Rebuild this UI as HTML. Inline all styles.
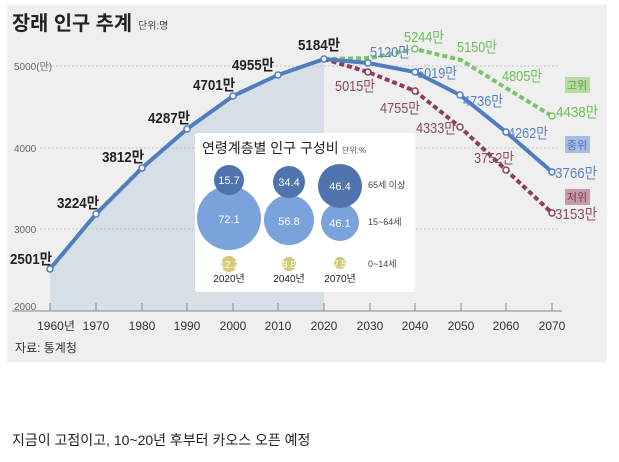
<!DOCTYPE html>
<html><head><meta charset="utf-8"><style>
body{margin:0;background:#fff;width:619px;height:462px;overflow:hidden}
svg{display:block}
text{font-family:"Liberation Sans","Noto Sans CJK KR",sans-serif}
</style></head><body>
<svg width="619" height="462" viewBox="0 0 619 462">
<rect x="7" y="5" width="600" height="357" fill="#efeff0"/>
<path d="M50,269 L96,214 L142,168 L187,129 L233,96 L278,75 L324,59 L324,311 L50,311 Z" fill="#d6dfe5"/>
<g stroke="#c4c4c4" stroke-dasharray="2,2" stroke-width="1">
<line x1="40" y1="66" x2="560" y2="66"/>
<line x1="40" y1="148" x2="560" y2="148"/>
<line x1="40" y1="229" x2="560" y2="229"/>
</g>
<g font-size="10" fill="#666">
<text x="14" y="70">5000(만)</text><text x="14" y="152">4000</text><text x="14" y="233">3000</text><text x="14" y="310">2000</text>
</g>
<text x="12" y="30" font-size="20" font-weight="bold" fill="#222" textLength="120" lengthAdjust="spacingAndGlyphs">장래 인구 추계</text>
<text x="138" y="29" font-size="10" fill="#444">단위:명</text>
<line x1="12" y1="311" x2="562" y2="311" stroke="#888" stroke-width="1"/>
<g stroke="#888"><line x1="50" y1="303" x2="50" y2="311"/><line x1="96" y1="303" x2="96" y2="311"/><line x1="142" y1="303" x2="142" y2="311"/><line x1="187" y1="303" x2="187" y2="311"/><line x1="233" y1="303" x2="233" y2="311"/><line x1="278" y1="303" x2="278" y2="311"/><line x1="324" y1="303" x2="324" y2="311"/><line x1="370" y1="303" x2="370" y2="311"/><line x1="415" y1="303" x2="415" y2="311"/><line x1="461" y1="303" x2="461" y2="311"/><line x1="506" y1="303" x2="506" y2="311"/><line x1="552" y1="303" x2="552" y2="311"/></g>
<g font-size="12" fill="#333" text-anchor="middle">
<text x="56" y="330">1960년</text><text x="96" y="330">1970</text><text x="142" y="330">1980</text><text x="187" y="330">1990</text><text x="233" y="330">2000</text><text x="278" y="330">2010</text><text x="324" y="330">2020</text><text x="370" y="330">2030</text><text x="415" y="330">2040</text><text x="461" y="330">2050</text><text x="506" y="330">2060</text><text x="552" y="330">2070</text>
</g>
<text x="15" y="352" font-size="12" fill="#333">자료: 통계청</text>
<polyline points="324,59 370,58 415,49 461,60 506,88 552,116" fill="none" stroke="#7cc26a" stroke-width="4" stroke-dasharray="5,3"/>
<polyline points="324,59 368,72 415,91 460,127 506,170 552,213" fill="none" stroke="#8c3f5a" stroke-width="4" stroke-dasharray="5,3"/>
<polyline points="50,269 96,214 142,168 187,129 233,96 278,75 324,59 368,63 415,72 460,95 506,132 552,172" fill="none" stroke="#4f7ec0" stroke-width="4"/>
<g fill="#fff" stroke="#4f7ec0" stroke-width="1.5">
<circle cx="50" cy="269" r="3"/><circle cx="96" cy="214" r="3"/><circle cx="142" cy="168" r="3"/><circle cx="187" cy="129" r="3"/><circle cx="233" cy="96" r="3"/><circle cx="278" cy="75" r="3"/><circle cx="324" cy="59" r="3"/><circle cx="368" cy="63" r="3"/><circle cx="415" cy="72" r="3"/><circle cx="460" cy="95" r="3"/><circle cx="506" cy="132" r="3"/><circle cx="552" cy="172" r="3"/></g>
<g fill="#fff" stroke="#7cc26a" stroke-width="1.5"><circle cx="415" cy="49" r="3"/><circle cx="552" cy="116" r="3"/></g>
<g fill="#fff" stroke="#8c3f5a" stroke-width="1.5"><circle cx="368" cy="72" r="3"/><circle cx="415" cy="91" r="3"/><circle cx="460" cy="127" r="3"/><circle cx="506" cy="170" r="3"/><circle cx="552" cy="213" r="3"/></g>
<g font-size="15" font-weight="bold" fill="#222">
<text x="10" y="264" textLength="42" lengthAdjust="spacingAndGlyphs">2501만</text><text x="57" y="208" textLength="42" lengthAdjust="spacingAndGlyphs">3224만</text><text x="102" y="162" textLength="42" lengthAdjust="spacingAndGlyphs">3812만</text><text x="148" y="123" textLength="42" lengthAdjust="spacingAndGlyphs">4287만</text><text x="193" y="90" textLength="42" lengthAdjust="spacingAndGlyphs">4701만</text><text x="232" y="70" textLength="42" lengthAdjust="spacingAndGlyphs">4955만</text><text x="298" y="50" textLength="42" lengthAdjust="spacingAndGlyphs">5184만</text>
</g>
<g font-size="15" fill="#5a82c4"><text x="370" y="57" textLength="40" lengthAdjust="spacingAndGlyphs">5120만</text><text x="417" y="78" textLength="40" lengthAdjust="spacingAndGlyphs">5019만</text><text x="463" y="106" textLength="40" lengthAdjust="spacingAndGlyphs">4736만</text><text x="508" y="138" textLength="40" lengthAdjust="spacingAndGlyphs">4262만</text><text x="555" y="178" textLength="42" lengthAdjust="spacingAndGlyphs">3766만</text></g>
<g font-size="15" fill="#6cbf5a"><text x="404" y="42" textLength="40" lengthAdjust="spacingAndGlyphs">5244만</text><text x="457" y="52" textLength="40" lengthAdjust="spacingAndGlyphs">5150만</text><text x="502" y="81" textLength="40" lengthAdjust="spacingAndGlyphs">4805만</text><text x="556" y="117" textLength="42" lengthAdjust="spacingAndGlyphs">4438만</text></g>
<g font-size="15" fill="#8e4a5e"><text x="335" y="91" textLength="40" lengthAdjust="spacingAndGlyphs">5015만</text><text x="380" y="113" textLength="40" lengthAdjust="spacingAndGlyphs">4755만</text><text x="416" y="133" textLength="40" lengthAdjust="spacingAndGlyphs">4333만</text><text x="474" y="163" textLength="40" lengthAdjust="spacingAndGlyphs">3752만</text><text x="555" y="219" textLength="42" lengthAdjust="spacingAndGlyphs">3153만</text></g>
<rect x="565" y="77" width="25" height="16" fill="#b8dca0"/><text x="577" y="89" font-size="11" fill="#5aa04a" text-anchor="middle">고위</text>
<rect x="565" y="136" width="25" height="17" fill="#a8bde3"/><text x="577" y="149" font-size="11" fill="#4a70b8" text-anchor="middle">중위</text>
<rect x="565" y="189" width="25" height="16" fill="#c59ba7"/><text x="577" y="201" font-size="11" fill="#7a3a50" text-anchor="middle">저위</text>
<rect x="195" y="133" width="220" height="159" rx="3" fill="#fff"/>
<text x="202" y="153" font-size="14" fill="#222">연령계층별 인구 구성비</text>
<text x="342" y="153" font-size="8" fill="#555">단위:%</text>
<circle cx="229" cy="218" r="32" fill="#7aa3dc"/>
<circle cx="229" cy="180" r="15" fill="#4f74ad"/>
<circle cx="289" cy="220" r="25" fill="#7aa3dc"/>
<circle cx="289" cy="182" r="16" fill="#4f74ad"/>
<circle cx="340" cy="222" r="19" fill="#7aa3dc"/>
<circle cx="340" cy="186" r="22" fill="#4f74ad"/>
<circle cx="229" cy="264" r="8" fill="#d3ca7a"/><circle cx="289" cy="264" r="7" fill="#d3ca7a"/><circle cx="340" cy="263" r="6" fill="#d3ca7a"/>
<g font-size="11" fill="#fff" text-anchor="middle"><text x="229" y="184">15.7</text><text x="289" y="186">34.4</text><text x="340" y="190">46.4</text><text x="229" y="223">72.1</text><text x="289" y="225">56.8</text><text x="340" y="227">46.1</text><text x="229" y="268" font-size="10">12.2</text><text x="289" y="268" font-size="10">8.8</text><text x="340" y="267" font-size="9">7.5</text></g>
<g font-size="10" fill="#222" text-anchor="middle"><text x="229" y="282">2020년</text><text x="289" y="282">2040년</text><text x="340" y="282">2070년</text></g>
<g font-size="9" fill="#444"><text x="368" y="188">65세 이상</text><text x="368" y="225">15~64세</text><text x="368" y="267">0~14세</text></g>
<text x="12" y="445" font-size="14" fill="#222">지금이 고점이고, 10~20년 후부터 카오스 오픈 예정</text>
</svg>
</body></html>
